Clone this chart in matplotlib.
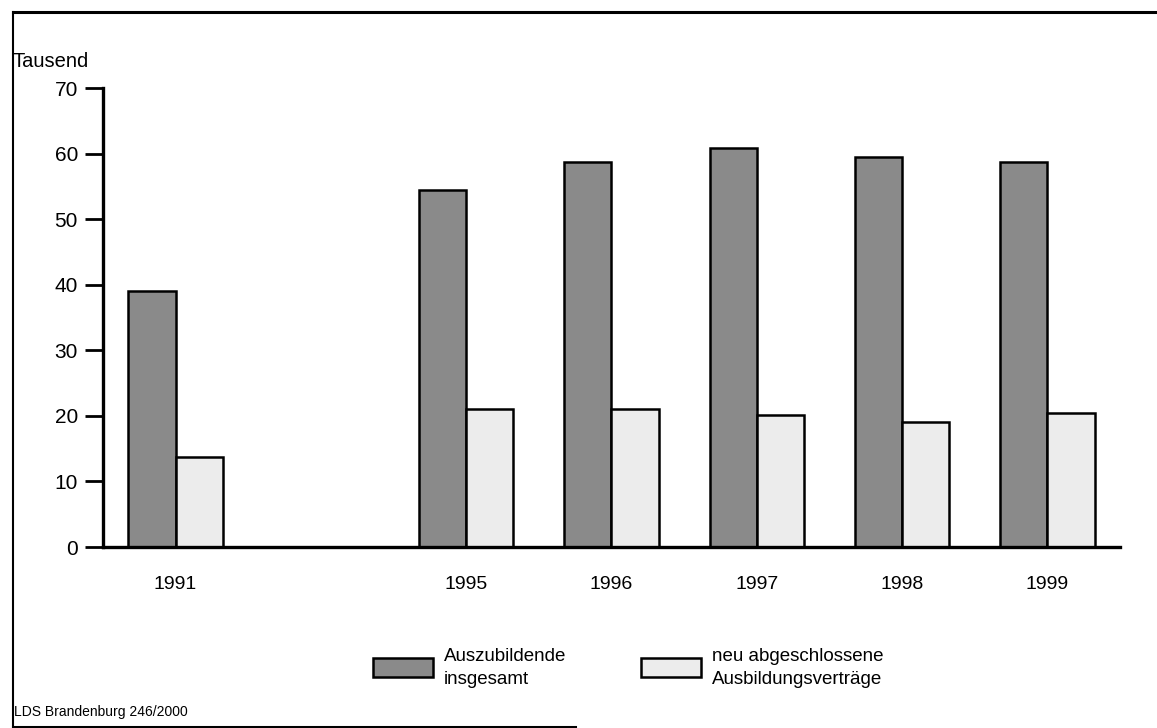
import numpy as np
import matplotlib
matplotlib.use("Agg")
import matplotlib.pyplot as plt
from matplotlib.lines import Line2D

# data (Tausend)
years = ["1991", "1995", "1996", "1997", "1998", "1999"]
slots = [0, 2, 3, 4, 5, 6]
auszubildende = [39.0, 54.4, 58.7, 60.8, 59.5, 58.7]
neue_vertraege = [13.7, 21.1, 21.1, 20.2, 19.0, 20.5]

plt.rcParams["font.family"] = ["Liberation Sans", "DejaVu Sans"]

fig = plt.figure(figsize=(11.57, 7.28), dpi=100)
ax = fig.add_axes([0.089, 0.2486, 0.879, 0.6305])

x = np.array(slots)
w = 0.325
b1 = ax.bar(x - w / 2, auszubildende, w, color="#8a8a8a", edgecolor="black",
            linewidth=1.8, label="Auszubildende\ninsgesamt")
b2 = ax.bar(x + w / 2, neue_vertraege, w, color="#ececec", edgecolor="black",
            linewidth=1.8, label="neu abgeschlossene\nAusbildungsverträge")

ax.set_xlim(-0.5, 6.5)
ax.set_ylim(0, 70)
ax.set_yticks(range(0, 71, 10))
ax.set_xticks(x)
ax.set_xticklabels(years)
ax.tick_params(axis="x", length=0, pad=21, labelsize=14)
ax.tick_params(axis="y", length=13, width=2, pad=5, labelsize=15)
for s in ["top", "right"]:
    ax.spines[s].set_visible(False)
ax.spines["left"].set_linewidth(2.4)
ax.spines["bottom"].set_linewidth(2.4)

fig.text(0.011, 0.915, "Tausend", fontsize=14.5, ha="left", va="center")

leg = fig.legend(handles=[b1, b2], loc="center", bbox_to_anchor=(0.543, 0.083),
                 ncol=2, frameon=False, fontsize=13.5, handlelength=3.2,
                 handleheight=1.2, columnspacing=4.0, handletextpad=0.6)
for t in leg.get_texts():
    t.set_linespacing(1.45)

fig.text(0.012, 0.022, "LDS Brandenburg 246/2000", fontsize=10, ha="left", va="center")

# outer frame (left, top, bottom part)
fig.add_artist(Line2D([0.011, 0.011], [0.0, 0.984], color="black", lw=1.5))
fig.add_artist(Line2D([0.011, 1.0], [0.984, 0.984], color="black", lw=2.2))
fig.add_artist(Line2D([0.011, 0.497], [0.002, 0.002], color="black", lw=2.2))

fig.savefig("out.png", dpi=100)
